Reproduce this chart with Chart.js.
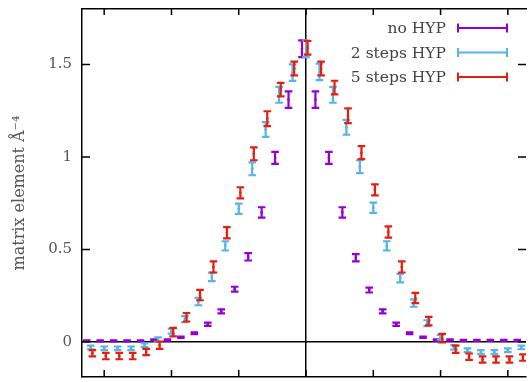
<!DOCTYPE html>
<html>
<head>
<meta charset="utf-8">
<title>matrix element</title>
<script src="https://cdn.jsdelivr.net/npm/chart.js@4.4.0/dist/chart.umd.min.js"></script>
<style>
  html, body { margin: 0; padding: 0; background: #fff; }
  #wrap { width: 530px; height: 382px; position: relative; }
</style>
</head>
<body>
<div id="wrap"><canvas id="grafico"></canvas></div>
<script>
// positions on the x axis
const posicoes = [-16, -15, -14, -13, -12, -11, -10, -9, -8, -7, -6, -5, -4, -3, -2, -1, 0,
                  1, 2, 3, 4, 5, 6, 7, 8, 9, 10, 11, 12, 13, 14, 15, 16];

// no HYP
const noHyp = [0.005, 0.005, 0.005, 0.005, 0.005, 0.01, 0.01, 0.025, 0.047, 0.095, 0.165, 0.285, 0.46, 0.70, 0.995, 1.31, 1.585,
               1.31, 0.995, 0.70, 0.455, 0.28, 0.165, 0.095, 0.047, 0.025, 0.01, 0.01, 0.008, 0.008, 0.008, 0.008, 0.008];
const noHypErr = [0.003, 0.003, 0.003, 0.003, 0.003, 0.003, 0.004, 0.004, 0.005, 0.009, 0.011, 0.013, 0.02, 0.028, 0.032, 0.045, 0.045,
                  0.045, 0.032, 0.028, 0.02, 0.013, 0.011, 0.009, 0.005, 0.004, 0.004, 0.003, 0.003, 0.003, 0.003, 0.003, 0.003];

// 2 steps HYP
const twoSteps = [-0.03, -0.035, -0.035, -0.035, -0.018, 0.012, 0.058, 0.123, 0.218, 0.351, 0.519, 0.72, 0.936, 1.148, 1.336, 1.456, 1.585,
                  1.46, 1.336, 1.16, 0.947, 0.725, 0.519, 0.345, 0.21, 0.101, 0.025, -0.03, -0.045, -0.055, -0.055, -0.045, -0.03];
const twoStepsErr = [0.01, 0.01, 0.01, 0.01, 0.01, 0.012, 0.013, 0.016, 0.02, 0.023, 0.025, 0.028, 0.035, 0.04, 0.043, 0.045, 0.045,
                     0.045, 0.043, 0.04, 0.035, 0.028, 0.025, 0.023, 0.02, 0.016, 0.013, 0.012, 0.01, 0.01, 0.01, 0.01, 0.01];

// 5 steps HYP
const fiveSteps = [-0.062, -0.077, -0.077, -0.077, -0.055, -0.018, 0.053, 0.133, 0.253, 0.405, 0.59, 0.806, 1.017, 1.207, 1.364, 1.478, 1.59,
                   1.478, 1.375, 1.223, 1.023, 0.822, 0.594, 0.405, 0.237, 0.112, 0.02, -0.04, -0.08, -0.095, -0.095, -0.095, -0.085];
const fiveStepsErr = [0.017, 0.017, 0.017, 0.017, 0.017, 0.02, 0.023, 0.023, 0.028, 0.03, 0.03, 0.03, 0.035, 0.04, 0.037, 0.037, 0.037,
                      0.037, 0.037, 0.04, 0.035, 0.03, 0.03, 0.03, 0.028, 0.023, 0.023, 0.02, 0.017, 0.017, 0.017, 0.017, 0.017];

const xTicks = [-15, -10, -5, 0, 5, 10, 15];
const yTicks = [0, 0.5, 1, 1.5];
const legendas = ['no HYP', '2 steps HYP', '5 steps HYP'];
const cores = ['#9400d3', '#56b4e9', '#e51e10'];

const SERIF = "'DejaVu Serif', serif";

function serie(valores, erros, label, cor, desloc) {
    return {
        label: label,
        data: posicoes.map((x, i) => ({ x: x + desloc, y: valores[i] })),
        errors: erros,
        borderColor: cor,
        backgroundColor: cor,
        pointRadius: 1.3,
        pointBorderWidth: 0,
        showLine: false
    };
}

// vertical error bars with caps
const errorBars = {
    id: 'errorBars',
    afterDatasetsDraw(chart) {
        const ctx = chart.ctx;
        const ys = chart.scales.y;
        const a = chart.chartArea;
        ctx.save();
        ctx.beginPath();
        ctx.rect(a.left, a.top, a.right - a.left, a.bottom - a.top);
        ctx.clip();
        chart.data.datasets.forEach((ds, i) => {
            const meta = chart.getDatasetMeta(i);
            ctx.strokeStyle = ds.borderColor;
            ctx.lineWidth = 2.2;
            meta.data.forEach((pt, j) => {
                const v = ds.data[j].y, e = ds.errors[j];
                const t = ys.getPixelForValue(v + e);
                const b = ys.getPixelForValue(v - e);
                const cap = 3.8;
                ctx.beginPath();
                ctx.moveTo(pt.x, t); ctx.lineTo(pt.x, b);
                ctx.moveTo(pt.x - cap, t); ctx.lineTo(pt.x + cap, t);
                ctx.moveTo(pt.x - cap, b); ctx.lineTo(pt.x + cap, b);
                ctx.stroke();
            });
        });
        ctx.restore();
    }
};

// inward tick marks, gnuplot style
const innerTicks = {
    id: 'innerTicks',
    afterDraw(chart) {
        const ctx = chart.ctx;
        const a = chart.chartArea;
        const xs = chart.scales.x, ys = chart.scales.y;
        ctx.save();
        ctx.strokeStyle = '#000';
        ctx.lineWidth = 1.5;
        ctx.beginPath();
        xTicks.forEach(v => {
            const px = xs.getPixelForValue(v);
            ctx.moveTo(px, a.bottom); ctx.lineTo(px, a.bottom - 7);
            ctx.moveTo(px, a.top); ctx.lineTo(px, a.top + 6);
        });
        yTicks.forEach(v => {
            const py = ys.getPixelForValue(v);
            ctx.moveTo(a.left, py); ctx.lineTo(a.left + 8, py);
            ctx.moveTo(a.right, py); ctx.lineTo(a.right - 8, py);
        });
        ctx.stroke();
        ctx.restore();
    }
};

// legend: text on the left, error bar sample on the right
const legendaPlugin = {
    id: 'legendaPlugin',
    afterDraw(chart) {
        const ctx = chart.ctx;
        const a = chart.chartArea;
        const x2 = a.right - 19, x1 = x2 - 49, xt = x1 - 12;
        ctx.save();
        ctx.font = '15.5px ' + SERIF;
        ctx.textAlign = 'right';
        ctx.textBaseline = 'middle';
        legendas.forEach((txt, i) => {
            const y = a.top + 19 + i * 24.5;
            ctx.fillStyle = '#444';
            ctx.fillText(txt, xt, y + 1);
            ctx.strokeStyle = cores[i];
            ctx.lineWidth = 2;
            ctx.beginPath();
            ctx.moveTo(x1, y); ctx.lineTo(x2, y);
            ctx.moveTo(x1, y - 4.5); ctx.lineTo(x1, y + 4.5);
            ctx.moveTo(x2, y - 4.5); ctx.lineTo(x2, y + 4.5);
            ctx.stroke();
        });
        ctx.restore();
    }
};

const zeroLine = c => (c.tick && c.tick.value === 0) ? '#000' : 'rgba(0,0,0,0)';

const CHART = document.getElementById('grafico');
new Chart(CHART, {
    type: 'scatter',
    data: {
        datasets: [
            serie(noHyp, noHypErr, legendas[0], cores[0], -0.3),
            serie(twoSteps, twoStepsErr, legendas[1], cores[1], 0),
            serie(fiveSteps, fiveStepsErr, legendas[2], cores[2], 0.12)
        ]
    },
    options: {
        responsive: true,
        maintainAspectRatio: false,
        animation: false,
        layout: { padding: { top: 9, bottom: 5, left: 0, right: 0 } },
        plugins: {
            legend: { display: false },
            tooltip: { enabled: false }
        },
        scales: {
            x: {
                type: 'linear',
                position: 'bottom',
                min: -16.65,
                max: 16.35,
                afterBuildTicks: s => { s.ticks = xTicks.map(v => ({ value: v })); },
                afterFit: s => { s.height = 0; s.paddingLeft = 0; s.paddingRight = 0; },
                ticks: { display: false },
                grid: { drawTicks: false, color: zeroLine, lineWidth: 1.5 },
                border: { display: true, color: '#000', width: 1.5 }
            },
            x2: {
                type: 'linear',
                position: 'top',
                display: true,
                min: -16.65,
                max: 16.35,
                afterFit: s => { s.height = 0; s.paddingLeft = 0; s.paddingRight = 0; },
                ticks: { display: false },
                grid: { display: false, drawTicks: false },
                border: { display: true, color: '#000', width: 1.5 }
            },
            y: {
                min: -0.19,
                max: 1.80,
                afterBuildTicks: s => { s.ticks = yTicks.map(v => ({ value: v })); },
                afterFit: s => { s.width = 82; s.paddingTop = 0; s.paddingBottom = 0; },
                ticks: {
                    padding: 10,
                    color: '#555',
                    font: { family: SERIF, size: 15 },
                    callback: v => String(v)
                },
                grid: { drawTicks: false, color: zeroLine, lineWidth: 1.5 },
                border: { display: true, color: '#000', width: 1.5 },
                title: {
                    display: true,
                    text: 'matrix element Å⁻⁴',
                    color: '#556',
                    font: { family: SERIF, size: 16 },
                    padding: { top: 10, bottom: 0 }
                }
            }
        }
    },
    plugins: [errorBars, innerTicks, legendaPlugin]
});
</script>
</body>
</html>
